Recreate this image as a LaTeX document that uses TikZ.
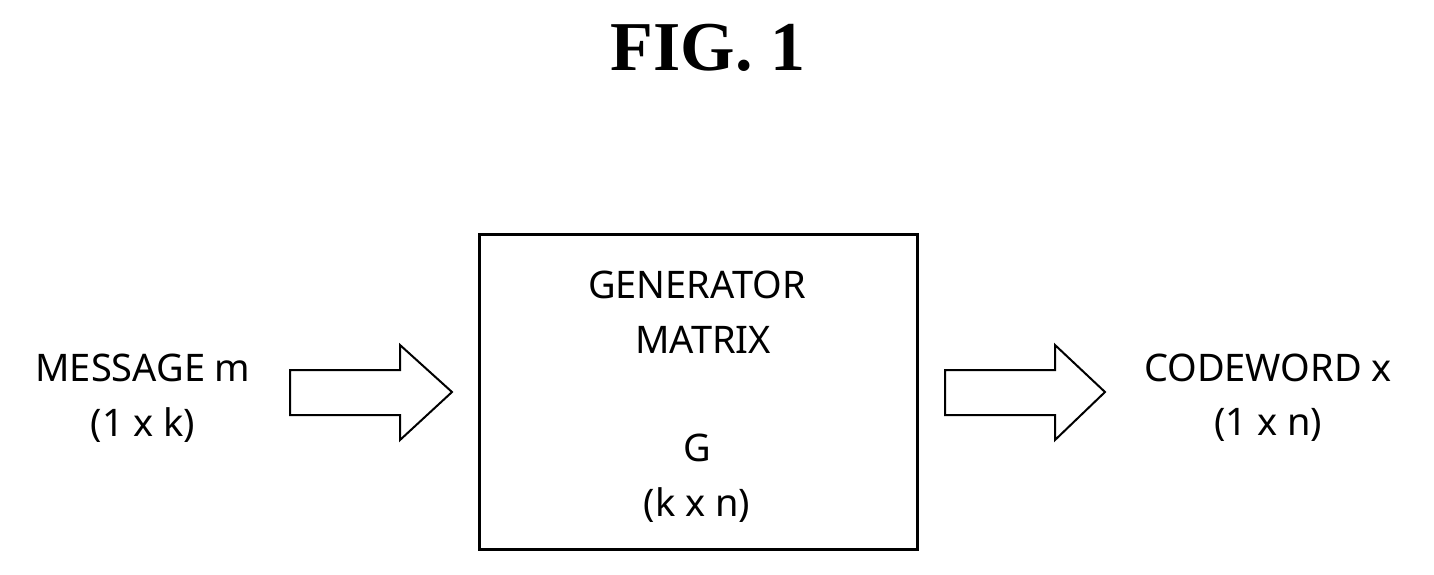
\documentclass[tikz,border=0pt]{standalone}
\usepackage{fontspec}
\setmainfont{Liberation Serif}
\newfontfamily\lblfont{Noto Sans}
\begin{document}
\begin{tikzpicture}[x=1pt,y=-1pt,
  lbl/.style={font=\lblfont\fontsize{38}{46}\selectfont,align=center,inner sep=0},
  barrow/.style={draw,line width=2pt,fill=white,line join=miter}]
\useasboundingbox (0,0) rectangle (1434,574);
\node[font=\bfseries\fontsize{70}{80}\selectfont] (title) at (708,48) {FIG. 1};
\node[draw,line width=2.5pt,minimum width=438pt,minimum height=315pt,anchor=north west] (box) at (478,233) {};
\node[lbl] (gen) at (697,285) {GENERATOR};
\node[lbl] (mat) at (703,340) {MATRIX};
\node[lbl] (g) at (697,448) {G};
\node[lbl] (kn) at (697,505) {(k x n)};
\node[lbl] (msg) at (143,368) {MESSAGE m};
\node[lbl] (k1) at (143,425) {(1 x k)};
\node[lbl] (cw) at (1268,368) {CODEWORD x};
\node[lbl] (n1) at (1268,425) {(1 x n)};
\draw[barrow] (290,370) -- (400,370) -- (400,345) -- (452,392) -- (400,440) -- (400,415) -- (290,415) -- cycle;
\draw[barrow] (945,370) -- (1055,370) -- (1055,345) -- (1105,392) -- (1055,440) -- (1055,415) -- (945,415) -- cycle;
\end{tikzpicture}
\end{document}
